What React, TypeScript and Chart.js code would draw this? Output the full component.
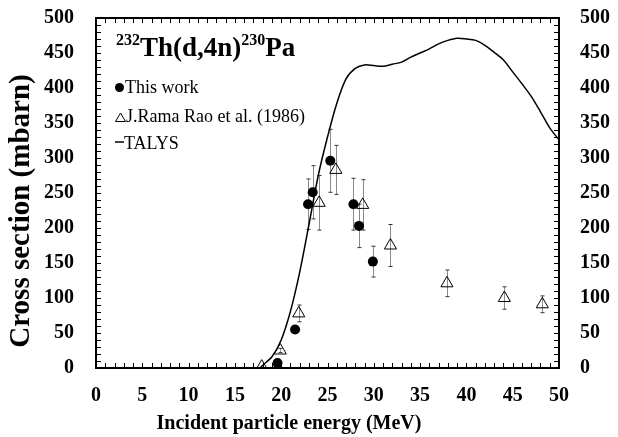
import React, { useEffect, useRef } from 'react';
import { Chart, registerables } from 'chart.js';
Chart.register(...registerables);

// ---- Data ----
const thisWorkE = [19.6, 21.5, 22.9, 23.4, 25.3, 27.8, 28.4, 29.9];
const thisWorkXS = [7, 55, 234, 251, 296, 234, 203, 152];
const thisWorkErr = [1, 4, 36, 38, 45, 37, 31, 22];

const raoE = [17.9, 19.9, 21.9, 24.1, 25.9, 28.8, 31.8, 37.9, 44.1, 48.2];
const raoXS = [2, 25, 78, 236, 283, 233, 175, 121, 100, 91];
const raoErr = [0, 3, 12, 39, 35, 36, 30, 19, 16, 12];

const talysE = [17.7, 18, 19, 20, 21, 22, 23, 24, 25, 26, 27, 28, 29, 30, 31, 32, 33, 34, 35, 36, 37, 38, 39, 40, 41, 42, 43, 44, 45, 46, 47, 48, 49, 50];
const talysXS = [0, 4, 16, 40, 81, 137, 205, 275, 330, 378, 413, 428, 433, 432, 431, 434, 437, 444, 450, 456, 463, 468, 471, 470, 468, 461, 451, 440, 423, 406, 388, 366, 343, 326];

const xTickLabels = [0, 5, 10, 15, 20, 25, 30, 35, 40, 45, 50];
const yTickLabels = [0, 50, 100, 150, 200, 250, 300, 350, 400, 450, 500];

const legendLabels = ['This work', 'J.Rama Rao et al. (1986)', 'TALYS'];
const titleParts = ['232', 'Th(d,4n)', '230', 'Pa'];
const xTitle = 'Incident particle energy (MeV)';
const yTitle = 'Cross section (mbarn)';

const SERIF = "'Liberation Serif', 'Times New Roman', Times, serif";

const errorBarPlugin = {
  id: 'errorBars',
  beforeDatasetsDraw(chart: any) {
    const ctx = chart.ctx;
    const xs = chart.scales.x;
    const ys = chart.scales.y;
    const sets = [
      { e: thisWorkE, v: thisWorkXS, d: thisWorkErr },
      { e: raoE, v: raoXS, d: raoErr },
    ];
    ctx.save();
    ctx.lineWidth = 1;
    for (const s of sets) {
      for (let i = 0; i < s.e.length; i++) {
        if (!s.d[i]) continue;
        const px = Math.round(xs.getPixelForValue(s.e[i])) + 0.5;
        const y1 = ys.getPixelForValue(s.v[i] + s.d[i]);
        const y2 = ys.getPixelForValue(s.v[i] - s.d[i]);
        ctx.strokeStyle = '#8a8a8a';
        ctx.beginPath();
        ctx.moveTo(px, y1);
        ctx.lineTo(px, y2);
        ctx.stroke();
        ctx.strokeStyle = '#333';
        ctx.beginPath();
        ctx.moveTo(px - 2, y1);
        ctx.lineTo(px + 2, y1);
        ctx.moveTo(px - 2, y2);
        ctx.lineTo(px + 2, y2);
        ctx.stroke();
      }
    }
    ctx.restore();
  },
};

const overlayPlugin = {
  id: 'overlay',
  afterDraw(chart: any) {
    const ctx = chart.ctx;
    const { left, right, top, bottom } = chart.chartArea;
    const xs = chart.scales.x;
    const ys = chart.scales.y;
    ctx.save();
    // minor ticks (inward)
    ctx.strokeStyle = '#000';
    ctx.lineWidth = 1;
    ctx.beginPath();
    for (let v = 0; v <= 50; v += 1) {
      const px = Math.round(xs.getPixelForValue(v)) + 0.5;
      ctx.moveTo(px, bottom);
      ctx.lineTo(px, bottom - 5);
      ctx.moveTo(px, top);
      ctx.lineTo(px, top + 5);
    }
    for (let v = 0; v <= 500; v += 10) {
      const py = Math.round(ys.getPixelForValue(v)) + 0.5;
      ctx.moveTo(left, py);
      ctx.lineTo(left + 5, py);
      ctx.moveTo(right, py);
      ctx.lineTo(right - 5, py);
    }
    ctx.stroke();
    // frame
    ctx.lineWidth = 2;
    ctx.strokeRect(left, top, right - left, bottom - top);

    ctx.fillStyle = '#000';
    // reaction title with superscripts
    let tx = 116;
    const bigFont = `bold 27px ${SERIF}`;
    const supFont = `bold 16px ${SERIF}`;
    ctx.textBaseline = 'alphabetic';
    ctx.textAlign = 'left';
    titleParts.forEach((p, i) => {
      const sup = i % 2 === 0;
      ctx.font = sup ? supFont : bigFont;
      ctx.fillText(p, tx, sup ? 45 : 56);
      tx += ctx.measureText(p).width;
    });

    // legend
    ctx.font = `18px ${SERIF}`;
    ctx.beginPath();
    ctx.arc(119.5, 87.5, 4.5, 0, Math.PI * 2);
    ctx.fill();
    ctx.fillText(legendLabels[0], 125, 93);

    ctx.lineWidth = 1;
    ctx.beginPath();
    ctx.moveTo(120.5, 113);
    ctx.lineTo(125.5, 121.5);
    ctx.lineTo(115.5, 121.5);
    ctx.closePath();
    ctx.stroke();
    ctx.fillText(legendLabels[1], 126, 122);

    ctx.lineWidth = 1.5;
    ctx.beginPath();
    ctx.moveTo(115, 142);
    ctx.lineTo(124, 142);
    ctx.stroke();
    ctx.fillText(legendLabels[2], 124, 149);

    // axis titles
    ctx.font = `bold 20px ${SERIF}`;
    ctx.textAlign = 'center';
    ctx.fillText(xTitle, 289, 429);

    ctx.save();
    ctx.translate(22, 211);
    ctx.rotate(-Math.PI / 2);
    ctx.font = `bold 29px ${SERIF}`;
    ctx.textBaseline = 'middle';
    ctx.fillText(yTitle, 0, 0);
    ctx.restore();

    ctx.restore();
  },
};

export default function App() {
  const ref = useRef<HTMLCanvasElement | null>(null);
  useEffect(() => {
    if (!ref.current) return;
    const tickFont = { family: SERIF, size: 20, weight: 'bold' as const };
    const chart = new Chart(ref.current, {
      type: 'scatter',
      data: {
        datasets: [
          {
            label: legendLabels[2],
            data: talysE.map((e, i) => ({ x: e, y: talysXS[i] })),
            showLine: true,
            borderColor: '#000',
            borderWidth: 1.5,
            pointRadius: 0,
            tension: 0.3,
            fill: false,
            order: 3,
          },
          {
            label: legendLabels[1],
            data: raoE.map((e, i) => ({ x: e, y: raoXS[i] })),
            pointStyle: 'triangle',
            pointRadius: 7,
            borderColor: '#000',
            backgroundColor: 'rgba(255,255,255,0)',
            borderWidth: 1,
            showLine: false,
            order: 2,
          },
          {
            label: legendLabels[0],
            data: thisWorkE.map((e, i) => ({ x: e, y: thisWorkXS[i] })),
            pointStyle: 'circle',
            pointRadius: 5,
            borderColor: '#000',
            backgroundColor: '#000',
            borderWidth: 0,
            showLine: false,
            order: 1,
          },
        ],
      },
      options: {
        animation: false,
        responsive: false,
        maintainAspectRatio: false,
        layout: { padding: { top: 18, left: 0, right: 0, bottom: 0 } },
        plugins: { legend: { display: false }, tooltip: { enabled: false }, title: { display: false } },
        scales: {
          x: {
            type: 'linear',
            min: 0,
            max: 50,
            afterBuildTicks: (s: any) => { s.ticks = xTickLabels.map((v) => ({ value: v })); },
            ticks: { font: tickFont, color: '#000', padding: 16, maxRotation: 0, autoSkip: false },
            grid: { display: false, drawTicks: false },
            border: { display: false },
            afterFit: (s: any) => { s.height = 69; s.paddingLeft = 0; s.paddingRight = 0; },
          },
          y: {
            type: 'linear',
            position: 'left',
            min: 0,
            max: 500,
            afterBuildTicks: (s: any) => { s.ticks = yTickLabels.map((v) => ({ value: v })); },
            ticks: { font: tickFont, color: '#000', padding: 22, autoSkip: false },
            grid: { display: false, drawTicks: false },
            border: { display: false },
            afterFit: (s: any) => { s.width = 96; s.paddingTop = 0; s.paddingBottom = 0; },
          },
          y2: {
            type: 'linear',
            position: 'right',
            min: 0,
            max: 500,
            afterBuildTicks: (s: any) => { s.ticks = yTickLabels.map((v) => ({ value: v })); },
            ticks: { font: tickFont, color: '#000', padding: 21, autoSkip: false },
            grid: { display: false, drawTicks: false },
            border: { display: false },
            afterFit: (s: any) => { s.width = 59; s.paddingTop = 0; s.paddingBottom = 0; },
          },
        },
      } as any,
      plugins: [errorBarPlugin, overlayPlugin],
    });
    return () => chart.destroy();
  }, []);
  return (
    <div style={{ position: 'absolute', left: 0, top: 0, width: 618, height: 437, background: '#fff' }}>
      <canvas ref={ref} width={618} height={437} style={{ display: 'block', width: 618, height: 437 }} />
    </div>
  );
}
